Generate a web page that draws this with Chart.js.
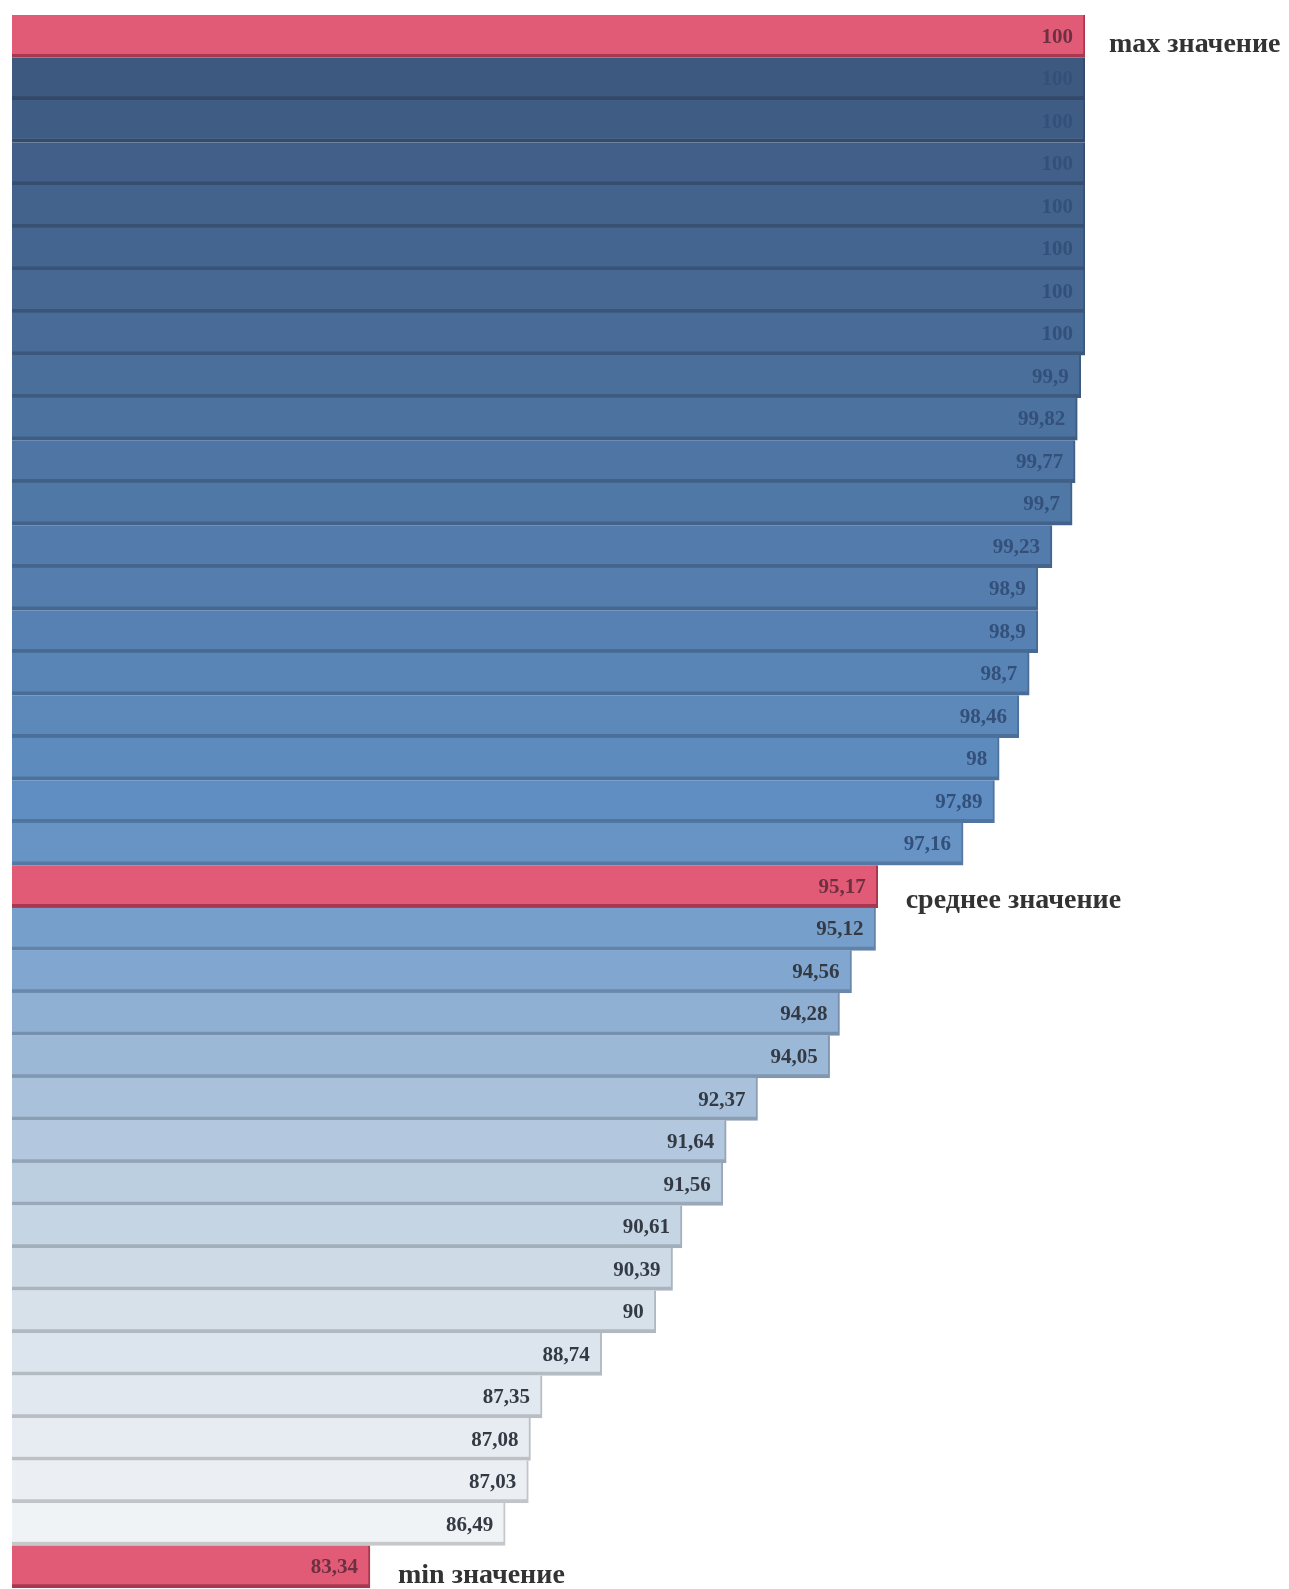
<!DOCTYPE html>
<html>
<head>
<meta charset="utf-8">
<script src="https://cdn.jsdelivr.net/npm/chart.js@4/dist/chart.umd.min.js"></script>
<style>
  html, body { margin: 0; padding: 0; background: #fff; }
  #wrap { width: 1289px; height: 1589px; }
</style>
</head>
<body>
<div id="wrap"><canvas id="c"></canvas></div>
<script>
// values, top to bottom
const values = [100, 100, 100, 100, 100, 100, 100, 100, 99.9, 99.82, 99.77, 99.7,
    99.23, 98.9, 98.9, 98.7, 98.46, 98, 97.89, 97.16, 95.17, 95.12, 94.56, 94.28,
    94.05, 92.37, 91.64, 91.56, 90.61, 90.39, 90, 88.74, 87.35, 87.08, 87.03, 86.49, 83.34];
const labels = values.map((v, i) => 'row' + (i + 1));
const markedRows = [0, 20, 36];
const markedTexts = ['max значение', 'среднее значение', 'min значение'];

// blue ramp, dark on top to almost white at the bottom
const ramp = [
    [0, [60, 86, 124]],
    [0.2, [72, 108, 152]],
    [0.5, [96, 142, 194]],
    [0.6, [124, 162, 205]],
    [0.7, [172, 195, 220]],
    [0.83, [214, 225, 234]],
    [1, [245, 246, 248]]
];
function rampColor(t, k) {
    let i = 0;
    while (i < ramp.length - 2 && t > ramp[i + 1][0]) i++;
    const a = ramp[i], b = ramp[i + 1];
    const f = (t - a[0]) / (b[0] - a[0]);
    const c = a[1].map((v, j) => Math.round((v + (b[1][j] - v) * f) * k));
    return 'rgb(' + c.join(',') + ')';
}
const fills = values.map((v, i) => markedRows.includes(i) ? '#e15b77' : rampColor(i / (values.length - 1), 1));
const edges = values.map((v, i) => markedRows.includes(i) ? '#a8384f' : rampColor(i / (values.length - 1), 0.82));

const serif = '"Liberation Serif", "Times New Roman", serif';

const barText = {
    id: 'barText',
    afterDatasetsDraw(chart) {
        const ctx = chart.ctx;
        const bars = chart.getDatasetMeta(0).data;
        ctx.save();
        ctx.textBaseline = 'middle';
        bars.forEach((bar, i) => {
            const v = values[i];
            const s = String(v).replace('.', ',');
            ctx.font = 'bold 21px ' + serif;
            ctx.textAlign = 'right';
            if (markedRows.includes(i)) ctx.fillStyle = '#6e3040';
            else if (i < 20) ctx.fillStyle = '#33507a';
            else ctx.fillStyle = '#333a44';
            ctx.fillText(s, bar.x - 12, bar.y + 1);
            const m = markedRows.indexOf(i);
            if (m >= 0) {
                ctx.font = 'bold 28px ' + serif;
                ctx.textAlign = 'left';
                ctx.fillStyle = '#333';
                ctx.fillText(markedTexts[m], bar.x + (i === 0 ? 24 : 28), bar.y + (i === 20 ? 14 : 9));
            }
        });
        ctx.restore();
    }
};

new Chart(document.getElementById('c'), {
    type: 'bar',
    data: {
        labels: labels,
        datasets: [{
            data: values,
            backgroundColor: fills,
            borderColor: edges,
            borderWidth: { top: 0, right: 2, bottom: 4, left: 0 },
            borderSkipped: false,
            categoryPercentage: 1,
            barPercentage: 1
        }]
    },
    options: {
        indexAxis: 'y',
        responsive: true,
        maintainAspectRatio: false,
        animation: false,
        layout: { padding: { left: 12, right: 204, top: 15, bottom: 1 } },
        plugins: {
            legend: { display: false },
            tooltip: { enabled: false }
        },
        scales: {
            x: { min: 75, max: 100, display: false },
            y: { display: false }
        }
    },
    plugins: [barText]
});
</script>
</body>
</html>
